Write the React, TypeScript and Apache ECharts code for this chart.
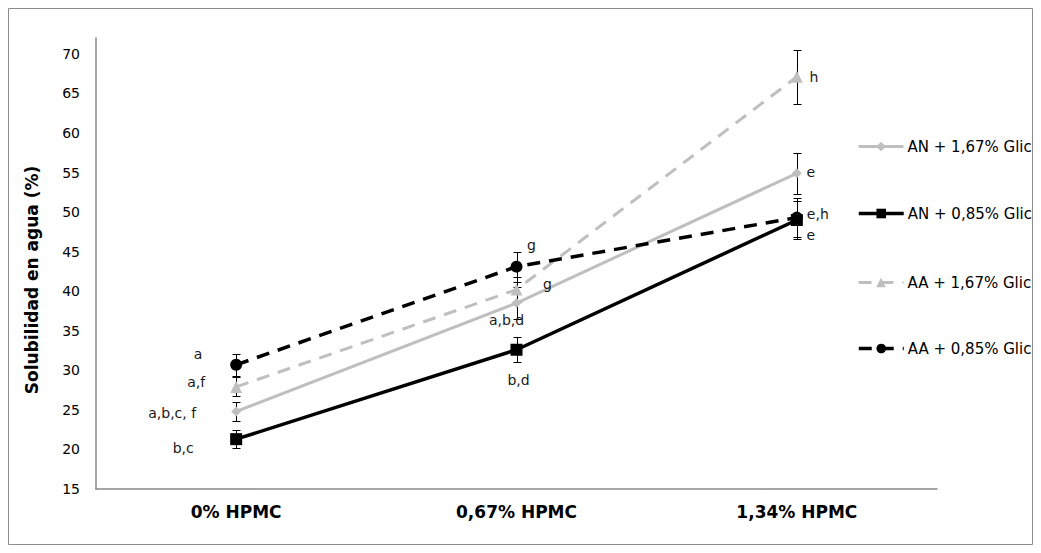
import React, { useEffect, useRef } from "react";
import * as echarts from "echarts";

const categories = ["0% HPMC", "0,67% HPMC", "1,34% HPMC"];
const seriesNames = ["AN + 1,67% Glic", "AN + 0,85% Glic", "AA + 1,67% Glic", "AA + 0,85% Glic"];

const anGlic167 = [24.8, 38.5, 54.9];
const anGlic085 = [21.3, 32.6, 49.0];
const aaGlic167 = [27.9, 40.2, 67.1];
const aaGlic085 = [30.7, 43.1, 49.3];

const anGlic167Err = [1.2, 2.0, 2.6];
const anGlic085Err = [1.1, 1.6, 2.4];
const aaGlic167Err = [1.2, 1.6, 3.4];
const aaGlic085Err = [1.4, 1.9, 2.5];

const anGlic167Labels = ["a,b,c, f", "a,b,d", "e"];
const anGlic085Labels = ["b,c", "b,d", "e"];
const aaGlic167Labels = ["a,f", "g", "h"];
const aaGlic085Labels = ["a", "g", "e,h"];

const yTicks = { min: 15, max: 72, interval: 5 };

const FONT = "'DejaVu Sans', Verdana, sans-serif";

export default function App() {
  const ref = useRef<HTMLDivElement>(null);
  useEffect(() => {
    if (!ref.current) return;
    const chart = echarts.init(ref.current, null, { renderer: "svg" });

    const values = [anGlic167, anGlic085, aaGlic167, aaGlic085];
    const errs = [anGlic167Err, anGlic085Err, aaGlic167Err, aaGlic085Err];
    const labels = [anGlic167Labels, anGlic085Labels, aaGlic167Labels, aaGlic085Labels];
    const colors = ["#bfbfbf", "#000000", "#bfbfbf", "#000000"];
    const lineTypes: any[] = ["solid", "solid", [13, 9], [13, 9]];
    const symbols = ["diamond", "rect", "triangle", "circle"];
    const symbolSizes = [10, 12, 12, 12];
    const lineWidths = [3, 3.5, 3, 3.5];
    const labelOffsets = [
      [[-64, 2], [-10, 17], [14, -1]],
      [[-53, 9], [2, 30], [14, 15]],
      [[-40, -5], [31, -6], [17, 0]],
      [[-38, -11], [15, -22], [21, -4]],
    ];
    const legendY = [147, 214, 283, 349];

    const lineSeries = values.map((vals, si) => ({
      type: "line",
      name: seriesNames[si],
      z: 3,
      data: vals.map((v, i) => ({
        value: v,
        label: {
          show: true,
          formatter: labels[si][i],
          position: "inside",
          offset: labelOffsets[si][i],
          align: "center",
          verticalAlign: "middle",
          color: "#1a1a1a",
          fontSize: 14,
          fontFamily: FONT,
        },
      })),
      symbol: symbols[si],
      symbolSize: symbolSizes[si],
      showAllSymbol: true,
      itemStyle: { color: colors[si], borderWidth: 0 },
      lineStyle: { color: colors[si], width: lineWidths[si], type: lineTypes[si] },
      emphasis: { disabled: true },
    }));

    const errSeries = values.map((vals, si) => ({
      type: "custom",
      name: "err" + si,
      z: 2,
      data: vals.map((v, i) => [i, v - errs[si][i], v + errs[si][i]]),
      encode: { x: 0, y: [1, 2] },
      renderItem: (params: any, api: any) => {
        const x = api.value(0);
        const p1 = api.coord([x, api.value(2)]);
        const p2 = api.coord([x, api.value(1)]);
        const cx = Math.round(p1[0]) + 0.5;
        const y1 = Math.round(p1[1]) + 0.5;
        const y2 = Math.round(p2[1]) + 0.5;
        const w = 4;
        const st = { stroke: "#000", lineWidth: 1 };
        return {
          type: "group",
          children: [
            { type: "line", shape: { x1: cx, y1: y1, x2: cx, y2: y2 }, style: st },
            { type: "line", shape: { x1: cx - w, y1: y1, x2: cx + w, y2: y1 }, style: st },
            { type: "line", shape: { x1: cx - w, y1: y2, x2: cx + w, y2: y2 }, style: st },
          ],
        };
      },
    }));

    chart.setOption({
      animation: false,
      grid: { left: 96, right: 104, top: 38, bottom: 64, containLabel: false },
      xAxis: {
        type: "category",
        data: categories,
        boundaryGap: true,
        axisLine: { lineStyle: { color: "#888888", width: 1.5 } },
        axisTick: { show: false },
        axisLabel: { fontFamily: FONT, fontSize: 17, fontWeight: "bold", color: "#000", margin: 14 },
        splitLine: { show: false },
      },
      yAxis: {
        type: "value",
        min: yTicks.min,
        max: yTicks.max,
        interval: yTicks.interval,
        axisLine: { show: true, lineStyle: { color: "#888888", width: 1.5 } },
        axisTick: { show: false },
        splitLine: { show: false },
        axisLabel: {
          fontFamily: FONT,
          fontSize: 14,
          color: "#000",
          margin: 16,
          showMaxLabel: false,
          formatter: (v: number) => (v % 5 === 0 ? String(v) : ""),
        },
      },
      legend: seriesNames.map((n, i) => ({
        data: [n],
        left: 857,
        top: legendY[i] - 8,
        orient: "vertical",
        itemWidth: 45,
        itemHeight: 12,
        itemGap: 0,
        padding: 0,
        selectedMode: false,
        lineStyle: { width: lineWidths[i] },
        textStyle: { fontFamily: FONT, fontSize: 15, color: "#000", padding: [0, 0, 0, -1] },
      })),
      graphic: [
        {
          type: "rect",
          shape: { x: 8.5, y: 8.5, width: 1024, height: 536 },
          style: { fill: "none", stroke: "#8c8c8c", lineWidth: 1 },
          silent: true,
        },
        {
          type: "text",
          x: 32,
          y: 280,
          rotation: Math.PI / 2,
          style: {
            text: "Solubilidad en agua (%)",
            font: "bold 17px " + FONT,
            fill: "#000",
            align: "center",
            verticalAlign: "middle",
            textAlign: "center",
            textVerticalAlign: "middle",
          },
          silent: true,
        },
      ],
      series: [...errSeries, ...lineSeries],
    });
    return () => chart.dispose();
  }, []);
  return (
    <div
      ref={ref}
      style={{ position: "fixed", left: 0, top: 0, width: 1041, height: 553, background: "#fff" }}
    />
  );
}
